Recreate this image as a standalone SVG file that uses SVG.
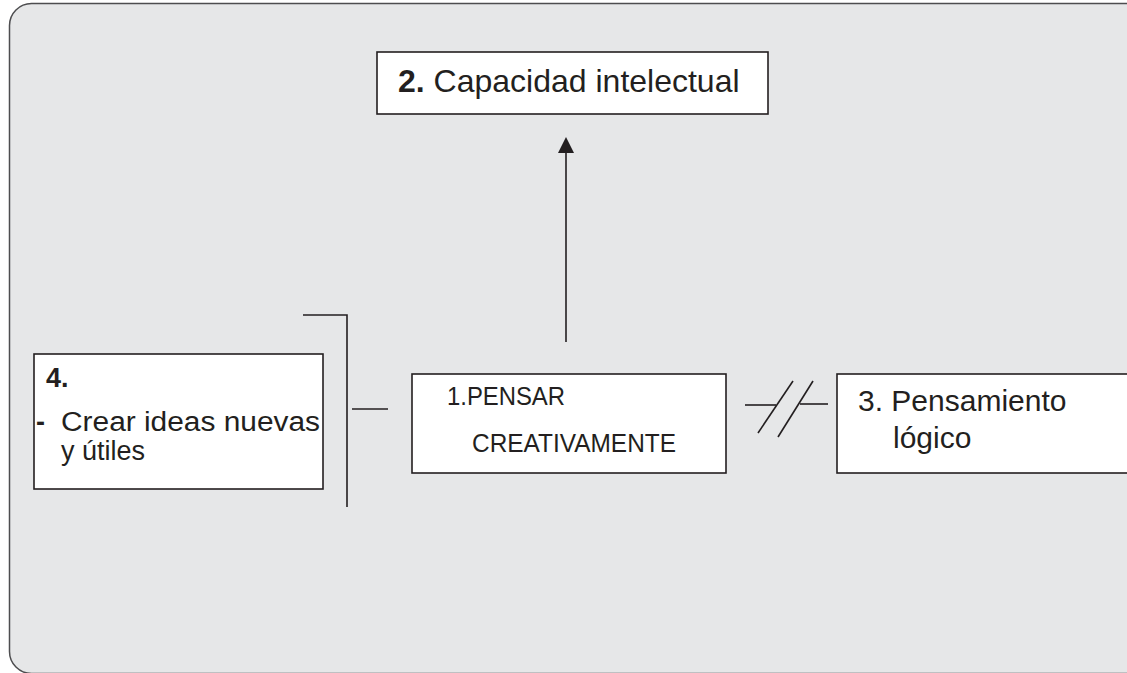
<svg xmlns="http://www.w3.org/2000/svg" width="1127" height="673" viewBox="0 0 1127 673">
<style>
.box{fill:#ffffff;stroke:#231f20;stroke-width:1.6}
.ln{fill:none;stroke:#231f20;stroke-width:1.6}
text{font-family:"Liberation Sans",Arial,sans-serif;fill:#231f20}
.b{font-weight:bold}
</style>
<rect width="1127" height="673" fill="#ffffff"/>
<rect x="9.5" y="3.5" width="1160" height="670" rx="22" ry="22" fill="#e6e7e8" stroke="#4d4d4f" stroke-width="1.5"/>
<g id="connectors">
<line class="ln" x1="566" y1="342" x2="566" y2="153"/>
<path d="M558,153 L566,137 L574,153 Z" fill="#231f20"/>
<polyline class="ln" points="303,315 347,315 347,507"/>
<line class="ln" x1="352" y1="409" x2="388" y2="409"/>
<line class="ln" x1="745" y1="405" x2="776" y2="405"/>
<line class="ln" x1="758" y1="433" x2="793" y2="381"/>
<line class="ln" x1="778" y1="437" x2="813" y2="381"/>
<line class="ln" x1="800" y1="404" x2="828" y2="404"/>
</g>
<g id="node2">
<rect class="box" x="377" y="52" width="391" height="62"/>
<text x="398" y="92" font-size="32"><tspan class="b">2.</tspan> Capacidad intelectual</text>
</g>
<g id="node1">
<rect class="box" x="412" y="374" width="314" height="99"/>
<text x="447" y="405" font-size="26" textLength="118" lengthAdjust="spacingAndGlyphs">1.PENSAR</text>
<text x="472" y="452" font-size="26" textLength="204" lengthAdjust="spacingAndGlyphs">CREATIVAMENTE</text>
</g>
<g id="node3">
<rect class="box" x="837" y="374" width="320" height="99"/>
<text x="858" y="411" font-size="30">3. Pensamiento</text>
<text x="893" y="448" font-size="30">lógico</text>
</g>
<g id="node4">
<rect class="box" x="34" y="354" width="289" height="135"/>
<text x="46" y="387" font-size="27" class="b">4.</text>
<text x="36" y="431" font-size="27" class="b">-</text>
<text x="61" y="431" font-size="27" textLength="259" lengthAdjust="spacingAndGlyphs">Crear ideas nuevas</text>
<text x="61" y="460" font-size="27">y útiles</text>
</g>
</svg>
